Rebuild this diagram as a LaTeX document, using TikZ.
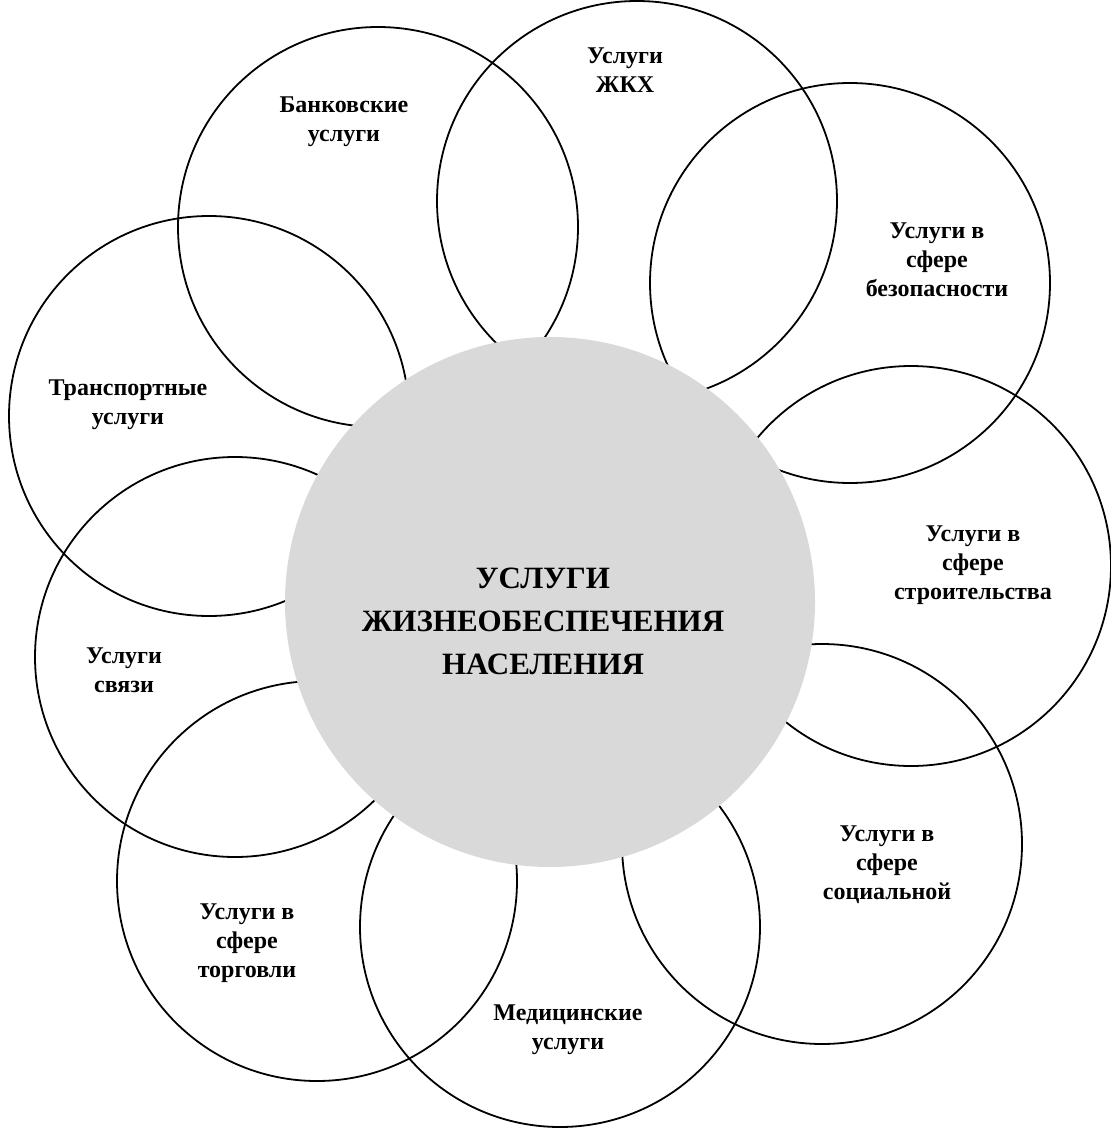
\documentclass[tikz,border=0pt]{standalone}
\usepackage{fontspec}
\setmainfont{Liberation Serif}
\definecolor{kern}{RGB}{217,217,217}
\begin{document}
\begin{tikzpicture}[x=0.5pt, y=-0.5pt]
  \useasboundingbox (0,0) rectangle (1111,1129);  % Rand wie im Original.
  \tikzstyle{kreis}=[circle, draw, line width=0.9pt, minimum size=200pt, inner sep=0pt]
  \tikzstyle{mitte}=[circle, fill=kern, minimum size=265pt, inner sep=0pt]
  \tikzstyle{beschr}=[align=center, font=\bfseries\fontsize{12}{14.5}\selectfont]

  \node[kreis] (k1) at (378, 227) {};
  \node[kreis] (k2) at (637, 201) {};
  \node[kreis] (k3) at (850, 283) {};
  \node[kreis] (k4) at (911, 566) {};
  \node[kreis] (k5) at (822, 844) {};
  \node[kreis] (k6) at (560, 927) {};
  \node[kreis] (k7) at (317, 881) {};
  \node[kreis] (k8) at (235, 657) {};
  \node[kreis] (k9) at (209, 416) {};

  \node[mitte] (m) at (550, 602) {};
  \node[align=center, font=\bfseries\fontsize{15.5}{21.5}\selectfont] (mt) at (543, 621)
    {УСЛУГИ\\ЖИЗНЕОБЕСПЕЧЕНИЯ\\НАСЕЛЕНИЯ};

  \node[beschr] (l1) at (344, 122) {Банковские\\услуги};
  \node[beschr] (l2) at (625,  70) {Услуги\\ЖКХ};
  \node[beschr] (l3) at (937, 260) {Услуги в\\сфере\\безопасности};
  \node[beschr] (l4) at (973, 565) {Услуги в\\сфере\\строительства};
  \node[beschr] (l5) at (887, 865) {Услуги в\\сфере\\социальной};
  \node[beschr] (l6) at (568, 1030) {Медицинские\\услуги};
  \node[beschr] (l7) at (247, 943) {Услуги в\\сфере\\торговли};
  \node[beschr] (l8) at (124, 670) {Услуги\\связи};
  \node[beschr] (l9) at (128, 405) {Транспортные\\услуги};
\end{tikzpicture}
\end{document}
